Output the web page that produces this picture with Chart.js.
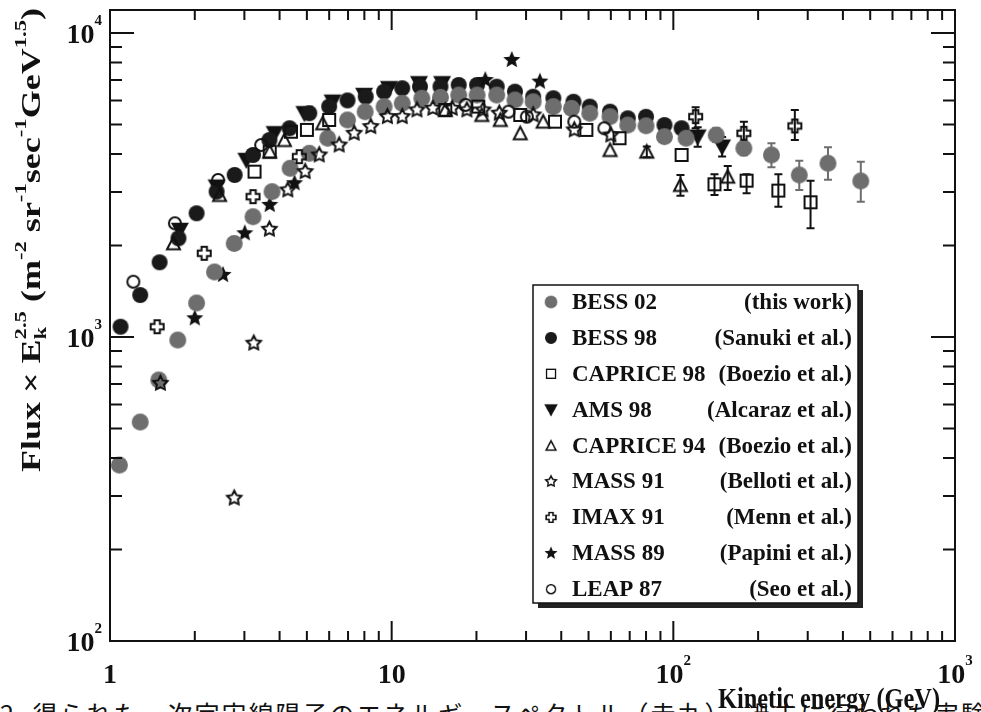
<!DOCTYPE html>
<html lang="ja">
<head>
<meta charset="UTF-8">
<title>Proton flux spectrum</title>
<script src="https://cdn.jsdelivr.net/npm/chart.js"></script>
<style>
  html, body { margin: 0; padding: 0; background: #fff; overflow: hidden; }
  #wrap { position: relative; width: 981px; height: 712px; overflow: hidden; }
  #caption { position: absolute; left: 0; top: 701px; font-family: "Noto Sans CJK JP"; font-size: 25px; line-height: 1; letter-spacing: 2px; white-space: nowrap; color: #111; }
  #fluxChart { position: absolute; left: 0; top: 0; }
</style>
</head>
<body>
<div id="wrap">
  <div id="caption">2. 得られた一次宇宙線陽子のエネルギースペクトル（赤丸）、過去に行われた実験と比較</div>
  <canvas id="fluxChart" width="981" height="712"></canvas>
</div>
<script>
// axis ranges and tick labels
const xMin = 1, xMax = 1000, yMin = 100, yMax = 11900;
const xTickValues = [1, 10, 100, 1000];
const xTickLabels = ['1', '10', '10^2', '10^3'];
const yTickValues = [100, 1000, 10000];
const yTickLabels = ['10^2', '10^3', '10^4'];

// BESS 02 (this work)
const bess02E = [1.08, 1.28, 1.49, 1.74, 2.03, 2.35, 2.76, 3.22, 3.76, 4.36, 5.10, 5.93, 6.97, 8.05, 9.40, 10.9, 12.8, 14.9, 17.3, 20.1, 23.6, 27.4, 31.8, 37.5, 43.5, 50.5, 59.6, 68.9, 80, 93, 111, 142, 178, 223, 280, 354, 463];
const bess02F = [379, 525, 722, 977, 1294, 1636, 2030, 2487, 3006, 3589, 4020, 4505, 5173, 5508, 5725, 5870, 6100, 6140, 6250, 6250, 6250, 6020, 5940, 5725, 5650, 5445, 5305, 4980, 4950, 4560, 4505, 4617, 4178, 3970, 3411, 3727, 3260];
const bess02ErrE = [142, 178, 223, 280, 354, 463];
const bess02ErrLo = [4380, 3960, 3614, 3045, 3290, 2787];
const bess02ErrHi = [4860, 4390, 4338, 3802, 4206, 3773];

// BESS 98 (Sanuki et al.)
const bess98E = [1.09, 1.28, 1.50, 1.75, 2.03, 2.39, 2.77, 3.22, 3.68, 4.34, 5.10, 6.0, 6.97, 8.09, 9.4, 10.9, 12.6, 14.9, 17.3, 20.1, 23.6, 27.4, 31.8, 37.5, 44.2, 50.5, 59.6, 68.9, 80, 93, 107];
const bess98F = [1081, 1374, 1761, 2112, 2552, 3006, 3411, 3970, 4445, 4860, 5445, 5725, 6000, 6170, 6410, 6580, 6660, 6660, 6745, 6745, 6660, 6410, 6170, 6100, 5940, 5725, 5510, 5240, 5300, 4980, 4860];

// CAPRICE 98 (Boezio et al.)
const caprice98E = [3.26, 3.69, 4.39, 5.0, 6.0, 15.5, 20.3, 28.6, 38.0, 49.1, 64.4, 107, 140, 182, 236, 307];
const caprice98F = [3498, 4070, 4733, 4800, 5173, 5580, 5725, 5373, 5108, 4800, 4505, 3970, 3179, 3268, 3030, 2774];
const caprice98ErrE = [140, 182, 236, 307];
const caprice98ErrLo = [2932, 2970, 2684, 2278];
const caprice98ErrHi = [3430, 3430, 3430, 3268];

// AMS 98 (Alcaraz et al.)
const ams98E = [1.77, 2.39, 3.05, 3.84, 4.90, 6.17, 7.98, 9.78, 12.5, 15.1, 122, 149];
const ams98F = [2249, 3122, 3820, 4677, 5445, 5940, 6250, 6580, 6830, 6830, 4560, 4227];
const ams98ErrE = [122, 149];
const ams98ErrLo = [4227, 3920];
const ams98ErrHi = [4900, 4550];

// CAPRICE 94 (Boezio et al.)
const caprice94E = [1.68, 2.45, 3.69, 4.16, 5.69, 15.5, 20.9, 24.3, 28.6, 34.5, 59.6, 80.5, 106, 156];
const caprice94F = [2033, 2932, 4070, 4445, 5045, 5580, 5373, 5173, 4677, 5108, 4120, 4070, 3162, 3368];
const caprice94ErrE = [80.5, 106, 156];
const caprice94ErrLo = [3900, 2915, 3045];
const caprice94ErrHi = [4230, 3411, 3650];

// MASS 91 (Belloti et al.)
const mass91E = [1.51, 2.76, 3.24, 3.68, 4.28, 4.93, 5.53, 6.51, 7.36, 8.43, 9.66, 10.9, 12.3, 14.0, 16.4, 18.5, 21.1, 24.1, 31.8, 44.5, 60];
const mass91F = [704, 295, 954, 2261, 3045, 3498, 3970, 4280, 4677, 4920, 5305, 5305, 5580, 5650, 5650, 5580, 5580, 5445, 5373, 4800, 4617];

// IMAX 91 (Menn et al.)
const imax91E = [1.47, 2.16, 3.22, 4.70, 120, 178, 270];
const imax91F = [1081, 1885, 2894, 3918, 5305, 4677, 4944];
const imax91ErrE = [120, 178, 270];
const imax91ErrLo = [4860, 4280, 4442];
const imax91ErrHi = [5694, 5108, 5580];

// MASS 89 (Papini et al.)
const mass89E = [2.0, 2.52, 3.01, 3.69, 4.52, 21.5, 26.7, 33.6];
const mass89F = [1152, 1600, 2193, 2719, 3204, 7000, 8150, 6920];

// LEAP 87 (Seo et al.)
const leap87E = [1.21, 1.70, 2.42, 3.44, 18.3, 26.0, 30.2, 44.5, 56.9];
const leap87F = [1520, 2366, 3285, 4280, 5800, 5510, 5305, 5108, 4860];

const serif = '"Liberation Serif", "Times New Roman", serif';
const font = size => 'bold ' + size + 'px ' + serif;

// marker images
function makeMarker(kind, size, color) {
    const c = document.createElement('canvas');
    c.width = c.height = size + 4;
    const g = c.getContext('2d');
    const m = c.width / 2, r = size / 2;
    g.lineWidth = 2;
    g.strokeStyle = color;
    g.fillStyle = color;
    g.lineJoin = 'miter';
    g.beginPath();
    if (kind === 'circle') {
        g.arc(m, m, r, 0, Math.PI * 2); g.fill();
    } else if (kind === 'ocircle') {
        g.arc(m, m, r - 1, 0, Math.PI * 2); g.stroke();
    } else if (kind === 'osquare') {
        g.rect(m - r + 1, m - r + 1, size - 2, size - 2); g.stroke();
    } else if (kind === 'otri') {
        g.moveTo(m, m - r + 1); g.lineTo(m + r - 1, m + r * 0.8); g.lineTo(m - r + 1, m + r * 0.8); g.closePath(); g.stroke();
    } else if (kind === 'dtri') {
        g.moveTo(m - r, m - r * 0.8); g.lineTo(m + r, m - r * 0.8); g.lineTo(m, m + r); g.closePath(); g.fill();
    } else if (kind === 'star' || kind === 'ostar') {
        for (let i = 0; i < 10; i++) {
            const ang = -Math.PI / 2 + i * Math.PI / 5;
            const rad = i % 2 ? r * 0.45 : r - (kind === 'ostar' ? 1 : 0);
            const px = m + rad * Math.cos(ang), py = m + rad * Math.sin(ang);
            if (i) g.lineTo(px, py); else g.moveTo(px, py);
        }
        g.closePath();
        if (kind === 'star') g.fill(); else g.stroke();
    } else if (kind === 'ocross') {
        const a = r * 0.36, R = r - 1;
        const pts = [[-a, -R], [a, -R], [a, -a], [R, -a], [R, a], [a, a], [a, R], [-a, R], [-a, a], [-R, a], [-R, -a], [-a, -a]];
        pts.forEach((p, i) => i ? g.lineTo(m + p[0], m + p[1]) : g.moveTo(m + p[0], m + p[1]));
        g.closePath(); g.stroke();
    }
    return c;
}

const series = [
    { name: 'BESS 02', ref: '(this work)', E: bess02E, F: bess02F, eE: bess02ErrE, eLo: bess02ErrLo, eHi: bess02ErrHi, kind: 'circle', size: 17, color: '#6e6e6e', order: 2 },
    { name: 'BESS 98', ref: '(Sanuki et al.)', E: bess98E, F: bess98F, kind: 'circle', size: 16, color: '#1a1a1a', order: 4 },
    { name: 'CAPRICE 98', ref: '(Boezio et al.)', E: caprice98E, F: caprice98F, eE: caprice98ErrE, eLo: caprice98ErrLo, eHi: caprice98ErrHi, kind: 'osquare', size: 14, color: '#111111', order: 1 },
    { name: 'AMS 98', ref: '(Alcaraz et al.)', E: ams98E, F: ams98F, eE: ams98ErrE, eLo: ams98ErrLo, eHi: ams98ErrHi, kind: 'dtri', size: 18, color: '#111111', order: 5 },
    { name: 'CAPRICE 94', ref: '(Boezio et al.)', E: caprice94E, F: caprice94F, eE: caprice94ErrE, eLo: caprice94ErrLo, eHi: caprice94ErrHi, kind: 'otri', size: 15, color: '#111111', order: 1 },
    { name: 'MASS 91', ref: '(Belloti et al.)', E: mass91E, F: mass91F, kind: 'ostar', size: 17, color: '#111111', order: 1 },
    { name: 'IMAX 91', ref: '(Menn et al.)', E: imax91E, F: imax91F, eE: imax91ErrE, eLo: imax91ErrLo, eHi: imax91ErrHi, kind: 'ocross', size: 15, color: '#111111', order: 1 },
    { name: 'MASS 89', ref: '(Papini et al.)', E: mass89E, F: mass89F, kind: 'star', size: 18, color: '#111111', order: 3 },
    { name: 'LEAP 87', ref: '(Seo et al.)', E: leap87E, F: leap87F, kind: 'ocircle', size: 14, color: '#111111', order: 1 }
];
series.forEach(s => { s.img = makeMarker(s.kind, s.size, s.color); });

// rich text: segments with superscripts / stacked sub+sup
function segWidth(ctx, s) {
    ctx.font = font(s.size);
    if (s.stack) return Math.max(ctx.measureText(s.sup).width, ctx.measureText(s.sub).width);
    return ctx.measureText(s.t).width;
}
function drawSegs(ctx, segs, x, y, align) {
    const w = segs.map(s => segWidth(ctx, s));
    const total = w.reduce((a, b) => a + b, 0);
    let cx = align === 'right' ? x - total : align === 'center' ? x - total / 2 : x;
    segs.forEach((s, i) => {
        ctx.font = font(s.size);
        if (s.stack) {
            ctx.fillText(s.sup, cx, y + s.supDy);
            ctx.fillText(s.sub, cx, y + s.subDy);
        } else {
            ctx.fillText(s.t, cx, y + (s.dy || 0));
        }
        cx += w[i];
    });
}
function tickSegs(label) {
    const [b, e] = label.split('^');
    const segs = [{ t: b, size: 28 }];
    if (e) segs.push({ t: e, size: 15, dy: -18 });
    return segs;
}
function fitSegs(ctx, segs, x, y, length, angle) {
    const total = segs.map(s => segWidth(ctx, s)).reduce((a, b) => a + b, 0);
    ctx.save();
    ctx.translate(x, y);
    ctx.rotate(angle);
    ctx.scale(length / total, 1);
    drawSegs(ctx, segs, 0, 0, 'left');
    ctx.restore();
}

const yTitle = [
    { t: 'Flux \u00d7 E', size: 27 },
    { stack: true, sup: '2.5', sub: 'k', size: 17, supDy: -14, subDy: 6 },
    { t: ' (m', size: 27 },
    { t: '-2', size: 17, dy: -14 },
    { t: ' sr', size: 27 },
    { t: '-1', size: 17, dy: -14 },
    { t: 'sec', size: 27 },
    { t: '-1', size: 17, dy: -14 },
    { t: 'GeV', size: 27 },
    { t: '1.5', size: 17, dy: -14 },
    { t: ')', size: 27 }
];

const errorBars = {
    id: 'errorBars',
    beforeDatasetsDraw(chart) {
        const { ctx, scales: { x, y } } = chart;
        ctx.save();
        ctx.lineWidth = 2;
        series.forEach(s => {
            if (!s.eE) return;
            ctx.strokeStyle = s.color;
            s.eE.forEach((e, i) => {
                const px = x.getPixelForValue(e);
                const lo = y.getPixelForValue(s.eLo[i]), hi = y.getPixelForValue(s.eHi[i]);
                ctx.beginPath();
                ctx.moveTo(px, lo); ctx.lineTo(px, hi);
                ctx.moveTo(px - 4, lo); ctx.lineTo(px + 4, lo);
                ctx.moveTo(px - 4, hi); ctx.lineTo(px + 4, hi);
                ctx.stroke();
            });
        });
        ctx.restore();
    }
};

const frame = {
    id: 'frame',
    afterDraw(chart) {
        const { ctx, chartArea: a, scales: { x, y } } = chart;
        ctx.save();
        ctx.strokeStyle = '#111';
        ctx.fillStyle = '#111';
        ctx.lineWidth = 2;
        ctx.strokeRect(a.left, a.top, a.right - a.left, a.bottom - a.top);

        // ticks on all four sides, pointing inward
        ctx.beginPath();
        for (let d = 0; d < 3; d++) {
            for (let k = 1; k <= 9; k++) {
                const v = Math.pow(10, d) * k;
                if (v <= xMin || v >= xMax) continue;
                const px = x.getPixelForValue(v), len = k === 1 ? 20 : 10;
                ctx.moveTo(px, a.bottom); ctx.lineTo(px, a.bottom - len);
                ctx.moveTo(px, a.top); ctx.lineTo(px, a.top + len);
            }
        }
        for (let d = 2; d < 5; d++) {
            for (let k = 1; k <= 9; k++) {
                const v = Math.pow(10, d) * k;
                if (v <= yMin || v >= yMax) continue;
                const py = y.getPixelForValue(v), len = k === 1 ? 24 : 12;
                ctx.moveTo(a.left, py); ctx.lineTo(a.left + len, py);
                ctx.moveTo(a.right, py); ctx.lineTo(a.right - len, py);
            }
        }
        ctx.stroke();

        // tick labels
        ctx.textBaseline = 'alphabetic';
        xTickValues.forEach((v, i) => drawSegs(ctx, tickSegs(xTickLabels[i]), x.getPixelForValue(v), 683, 'center'));
        yTickValues.forEach((v, i) => drawSegs(ctx, tickSegs(yTickLabels[i]), 102, y.getPixelForValue(v) + 10, 'right'));

        // axis titles
        fitSegs(ctx, [{ t: 'Kinetic energy (GeV)', size: 30 }], 718, 708, 222, 0);
        fitSegs(ctx, yTitle, 40, 472, 464, -Math.PI / 2);

        // legend
        const lx = 533, ly = 285, lw = 325, lh = 318;
        ctx.fillStyle = '#222';
        ctx.fillRect(lx + 5, ly + 5, lw, lh);
        ctx.fillStyle = '#fff';
        ctx.fillRect(lx, ly, lw, lh);
        ctx.lineWidth = 1.5;
        ctx.strokeRect(lx, ly, lw, lh);
        ctx.fillStyle = '#111';
        ctx.font = font(23);
        ctx.textBaseline = 'middle';
        series.forEach((s, i) => {
            const ry = 302 + i * 35.9;
            const sc = 0.75, w = s.img.width * sc;
            ctx.drawImage(s.img, 551 - w / 2, ry - w / 2, w, w);
            ctx.textAlign = 'left';
            ctx.fillText(s.name, 572, ry + 1);
            ctx.textAlign = 'right';
            ctx.fillText(s.ref, 852, ry + 1);
        });
        ctx.restore();
    }
};

const datasets = series.map(s => ({
    label: s.name,
    data: s.E.map((e, i) => ({ x: e, y: s.F[i] })),
    pointStyle: s.img,
    order: s.order
}));

new Chart(document.getElementById('fluxChart'), {
    type: 'scatter',
    data: { datasets: datasets },
    options: {
        responsive: false,
        animation: false,
        events: [],
        layout: { padding: { left: 110, right: 26, top: 10, bottom: 71 } },
        scales: {
            x: { type: 'logarithmic', min: xMin, max: xMax, display: false },
            y: { type: 'logarithmic', min: yMin, max: yMax, display: false }
        },
        plugins: {
            legend: { display: false },
            tooltip: { enabled: false }
        }
    },
    plugins: [errorBars, frame]
});
</script>
</body>
</html>
